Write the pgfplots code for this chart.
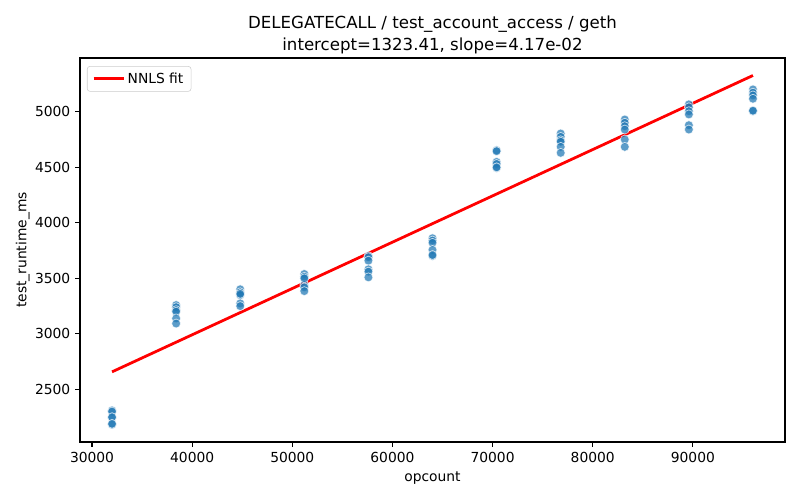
\documentclass[border=0pt]{standalone}
\usepackage{pgfplots}
\pgfplotsset{compat=1.18}
\usepackage{fontspec}
\setmainfont{DejaVu Sans}
\definecolor{mplblue}{HTML}{1F77B4}
\begin{document}
\begin{tikzpicture}
\path[use as bounding box] (0,0) rectangle (576bp,360bp);
\begin{axis}[
  at={(57.6bp,41.76bp)}, anchor=south west,
  scale only axis, width=507.6bp, height=276.48bp,
  xmin=28800, xmax=99200, ymin=2026, ymax=5484,
  xtick={30000,40000,...,90000}, ytick={2500,3000,...,5000},
  scaled ticks=false,
  /pgf/number format/assume math mode=true,
  /pgf/number format/1000 sep={},
  tick align=outside, tick pos=left,
  major tick length=3.5bp,
  every tick/.style={line width=0.8bp, black},
  axis line style={line width=0.8bp},
  tick label style={font=\fontsize{10}{12}\selectfont},
  label style={font=\fontsize{10}{12}\selectfont},
  xlabel={opcount}, ylabel={test\_runtime\_ms},
  ylabel style={xshift=0bp, yshift=-3bp},
  title={DELEGATECALL / test\_account\_access / geth\\intercept=1323.41, slope=4.17e-02},
  title style={align=center, font=\fontsize{12}{15.8}\selectfont, at={(0.5,1)}, anchor=south, yshift=-6.5bp},
  legend style={at={(0.0099,0.979)}, anchor=north west, draw=black!20, rounded corners=2bp,
    font=\fontsize{10}{12}\selectfont, inner xsep=3.5bp, inner ysep=2.5bp, fill=white, fill opacity=0.8, text opacity=1},
  legend cell align=left,
  legend image code/.code={\draw[#1] (0bp,0bp) -- (21.6bp,0bp);},
]
\addplot[only marks, mark=*, mark size=3.2bp, mark options={fill=mplblue, draw=white, line width=0.5bp, opacity=0.72}, forget plot] coordinates {
(32000,2310) (32000,2300) (32000,2244) (32000,2250) (32000,2183) (32000,2190)
(38400,3259) (38400,3240) (38400,3214) (38400,3200) (38400,3139) (38400,3093)
(44800,3401) (44800,3374) (44800,3349) (44800,3274) (44800,3250) (44800,3360)
(51200,3539) (51200,3514) (51200,3439) (51200,3419) (51200,3385) (51200,3500)
(57600,3700) (57600,3690) (57600,3659) (57600,3581) (57600,3560) (57600,3509)
(64000,3861) (64000,3840) (64000,3820) (64000,3756) (64000,3702) (64000,3710)
(70400,4653) (70400,4645) (70400,4548) (70400,4530) (70400,4494) (70400,4500)
(76800,4804) (76800,4774) (76800,4743) (76800,4730) (76800,4684) (76800,4630)
(83200,4930) (83200,4901) (83200,4870) (83200,4840) (83200,4750) (83200,4684)
(89600,5066) (89600,5040) (89600,5005) (89600,4976) (89600,4879) (89600,4840)
(96000,5201) (96000,5172) (96000,5147) (96000,5117) (96000,5005) (96000,5010)
};
\addplot[red, line width=2bp] coordinates {(32000,2657.8) (96000,5326.6)};
\addlegendentry{NNLS fit}
\end{axis}
\end{tikzpicture}
\end{document}
